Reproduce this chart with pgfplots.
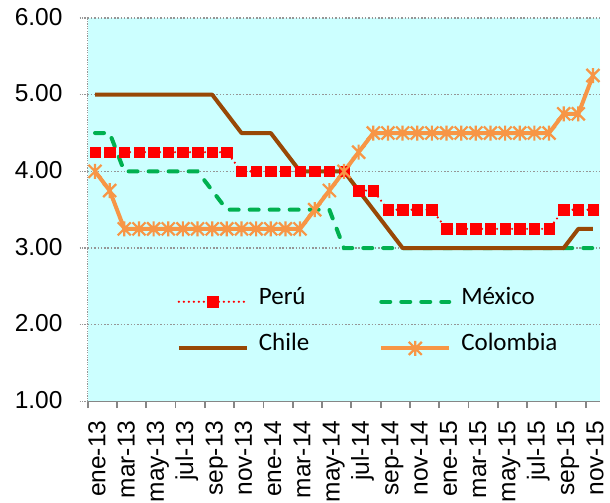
\documentclass[border=0pt]{standalone}
\usepackage{pgfplots}
\usepackage{pgfplotstable}
\pgfplotsset{compat=1.18}
\usepackage{fontspec}
\setmainfont{Liberation Sans}
\newfontfamily\calib{Carlito}
\definecolor{peru}{RGB}{255,0,0}
\definecolor{mex}{RGB}{0,176,80}
\definecolor{chile}{RGB}{152,72,6}
\definecolor{col}{RGB}{247,150,70}
\definecolor{bg}{RGB}{204,255,255}
\definecolor{gridgray}{RGB}{150,150,150}
\definecolor{axgray}{RGB}{134,134,134}

\pgfdeclareplotmark{xstar}{%
  \pgfpathmoveto{\pgfqpoint{0bp}{7.5bp}}\pgfpathlineto{\pgfqpoint{0bp}{-7.5bp}}%
  \pgfpathmoveto{\pgfqpoint{-6.5bp}{-6.5bp}}\pgfpathlineto{\pgfqpoint{6.5bp}{6.5bp}}%
  \pgfpathmoveto{\pgfqpoint{-6.5bp}{6.5bp}}\pgfpathlineto{\pgfqpoint{6.5bp}{-6.5bp}}%
  \pgfusepathqstroke}

\pgfplotstableread{
i peru mex chile col
0 4.25 4.50 5.00 4.00
1 4.25 4.50 5.00 3.75
2 4.25 4.00 5.00 3.25
3 4.25 4.00 5.00 3.25
4 4.25 4.00 5.00 3.25
5 4.25 4.00 5.00 3.25
6 4.25 4.00 5.00 3.25
7 4.25 4.00 5.00 3.25
8 4.25 3.75 5.00 3.25
9 4.25 3.50 4.75 3.25
10 4.00 3.50 4.50 3.25
11 4.00 3.50 4.50 3.25
12 4.00 3.50 4.50 3.25
13 4.00 3.50 4.25 3.25
14 4.00 3.50 4.00 3.25
15 4.00 3.50 4.00 3.50
16 4.00 3.50 4.00 3.75
17 4.00 3.00 4.00 4.00
18 3.75 3.00 3.75 4.25
19 3.75 3.00 3.50 4.50
20 3.50 3.00 3.25 4.50
21 3.50 3.00 3.00 4.50
22 3.50 3.00 3.00 4.50
23 3.50 3.00 3.00 4.50
24 3.25 3.00 3.00 4.50
25 3.25 3.00 3.00 4.50
26 3.25 3.00 3.00 4.50
27 3.25 3.00 3.00 4.50
28 3.25 3.00 3.00 4.50
29 3.25 3.00 3.00 4.50
30 3.25 3.00 3.00 4.50
31 3.25 3.00 3.00 4.50
32 3.50 3.00 3.00 4.75
33 3.50 3.00 3.25 4.75
34 3.50 3.00 3.25 5.25
}\datatable

\begin{document}
\begin{tikzpicture}
\begin{axis}[
  scale only axis, width=512.6bp, height=383.4bp,
  xmin=-0.5, xmax=34.5, ymin=1, ymax=6,
  axis background/.style={fill=bg},
  axis x line*=bottom, axis y line*=left,
  x axis line style={draw=axgray, line width=1.8bp, -},
  y axis line style={draw=gridgray, line width=1.5bp, dash pattern=on 1.2bp off 1.2bp, -},
  ymajorgrids,
  major grid style={draw=gridgray, line width=1.5bp, dash pattern=on 1.5bp off 1.8bp},
  tick align=outside,
  major tick length=8bp, minor tick length=6.7bp,
  xtick={0.46,2.46,4.46,6.46,8.46,10.46,12.46,14.46,16.46,18.46,20.46,22.46,24.46,26.46,28.46,30.46,32.46,34.46},
  xticklabels={ene-13,mar-13,may-13,jul-13,sep-13,nov-13,ene-14,mar-14,may-14,jul-14,sep-14,nov-14,ene-15,mar-15,may-15,jul-15,sep-15,nov-15},
  minor xtick={-0.5,1.5,3.5,5.5,7.5,9.5,11.5,13.5,15.5,17.5,19.5,21.5,23.5,25.5,27.5,29.5,31.5,33.5},
  every major x tick/.append style={draw=none},
  every minor x tick/.append style={draw=axgray, line width=1.8bp},
  every major y tick/.append style={draw=gridgray, line width=1.5bp, dash pattern=on 1.2bp off 1.2bp},
  ytick={1,2,3,4,5,6},
  yticklabels={1.00,2.00,3.00,4.00,5.00,6.00},
  xticklabel style={rotate=90, anchor=east, inner sep=0pt, text height=0.72em, text depth=0pt,
    font=\fontsize{24.5bp}{28bp}\selectfont},
  yticklabel style={anchor=east, inner sep=0pt, text height=0.72em, text depth=0pt, yshift=-3.5bp,
    font=\fontsize{24.5bp}{28bp}\selectfont},
  xticklabel shift=11bp,
  yticklabel shift=17bp,
  clip=false,
  legend columns=2,
  legend cell align=left,
  legend style={draw=none, fill=none, inner sep=0pt, outer sep=0pt,
    font=\calib\fontsize{25bp}{28bp}\selectfont,
    at={(rel axis cs:0.174,0.2735)}, anchor=north west,
    row sep=34bp,
    nodes={inner sep=0pt, text height=0.66em, text depth=0.2em},
    /tikz/every odd column/.append style={column sep=10bp},
    /tikz/every even column/.append style={column sep=70bp}},
  legend image code/.code={\draw[mark repeat=2,mark phase=2,#1] plot coordinates {(0bp,0bp)(34bp,0bp)(68bp,0bp)};},
]
\addplot[peru, line width=2.4bp, line cap=round, dash pattern=on 0bp off 5bp,
  mark=square*, mark size=5.2bp, mark options={solid, fill=peru, draw=peru, line width=0.4bp}]
  table[x=i, y=peru] {\datatable};
\addlegendentry{Perú}
\addplot[mex, line width=4bp, line cap=round, dash pattern=on 9bp off 11bp]
  table[x=i, y=mex] {\datatable};
\addlegendentry{México}
\addplot[chile, line width=4bp, line join=round]
  table[x=i, y=chile] {\datatable};
\addlegendentry{Chile}
\addplot[col, line width=4bp, line join=round,
  mark=xstar, mark options={solid, line width=2.2bp}]
  table[x=i, y=col] {\datatable};
\addlegendentry{Colombia}
\end{axis}
\pgfresetboundingbox
\path[use as bounding box] (-87.7bp,-101.3bp) rectangle (522.3bp,401.4bp);
\end{tikzpicture}
\end{document}
